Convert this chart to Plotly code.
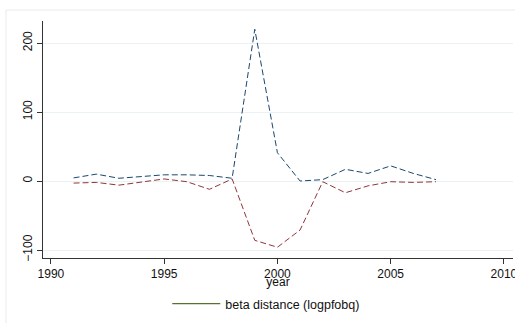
import plotly.graph_objects as go

years = list(range(1991, 2008))
blue_vals = [4.5, 10, 4, 6, 9, 9, 8, 4, 220, 41, 0, 2, 17, 11, 22, 11, 2]
red_vals = [-3, -2, -6, -2, 3, -1, -12, 3, -86, -96, -71, -1, -17, -7, -1, -2, -1]
legend_label = "beta distance (logpfobq)"
x_ticks = [1990, 1995, 2000, 2005, 2010]
y_ticks = [-100, 0, 100, 200]

fig = go.Figure()
fig.add_trace(go.Scatter(x=years, y=blue_vals, mode="lines", showlegend=False,
                         line=dict(color="#1a476f", width=1, dash="6px,3px")))
fig.add_trace(go.Scatter(x=years, y=red_vals, mode="lines", showlegend=False,
                         line=dict(color="#90353b", width=1, dash="6px,3px")))
fig.add_trace(go.Scatter(x=[None], y=[None], mode="lines", name=legend_label,
                         line=dict(color="#55752f", width=1.2)))

L, T, R, B = 43, 21, 2, 65
W, H = 515, 323
pw, ph = W - L - R, H - T - B

def px2x(px):
    return (px - L) / pw

def py2y(py):
    return (H - B - py) / ph

fig.update_layout(
    width=W, height=H,
    margin=dict(l=L, r=R, t=T, b=B, autoexpand=False),
    paper_bgcolor="white", plot_bgcolor="white",
    font=dict(family="Liberation Sans, Arial, sans-serif", size=12, color="#111"),
    xaxis=dict(range=[1989.65, 2010.4], tickvals=x_ticks, showgrid=False, zeroline=False,
               showline=True, linecolor="#333", linewidth=1, ticks="outside", ticklen=5,
               tickcolor="#333", automargin=False, ticklabeloverflow="allow",
               title=dict(text="year", standoff=2, font=dict(size=12))),
    yaxis=dict(range=[-111.6, 232], tickvals=y_ticks, tickangle=-90, showgrid=True,
               gridcolor="#eaf2f3", gridwidth=1, zeroline=False, showline=True, automargin=False,
               linecolor="#333", linewidth=1, ticks="outside", ticklen=5, tickcolor="#333"),
    legend=dict(orientation="h", x=0.475, xanchor="center", y=(H - 304) / H, yanchor="middle",
                yref="container", font=dict(size=12.5), itemwidth=48),
    shapes=[dict(type="rect", xref="paper", yref="paper",
                 x0=px2x(6), y0=py2y(340), x1=px2x(530), y1=py2y(10),
                 line=dict(color="#e4ecef", width=1), fillcolor="rgba(0,0,0,0)", layer="below")],
)

fig.write_html("out.html", config={"displayModeBar": False},
               post_script="document.body.style.margin='0';document.body.style.overflow='hidden';")
